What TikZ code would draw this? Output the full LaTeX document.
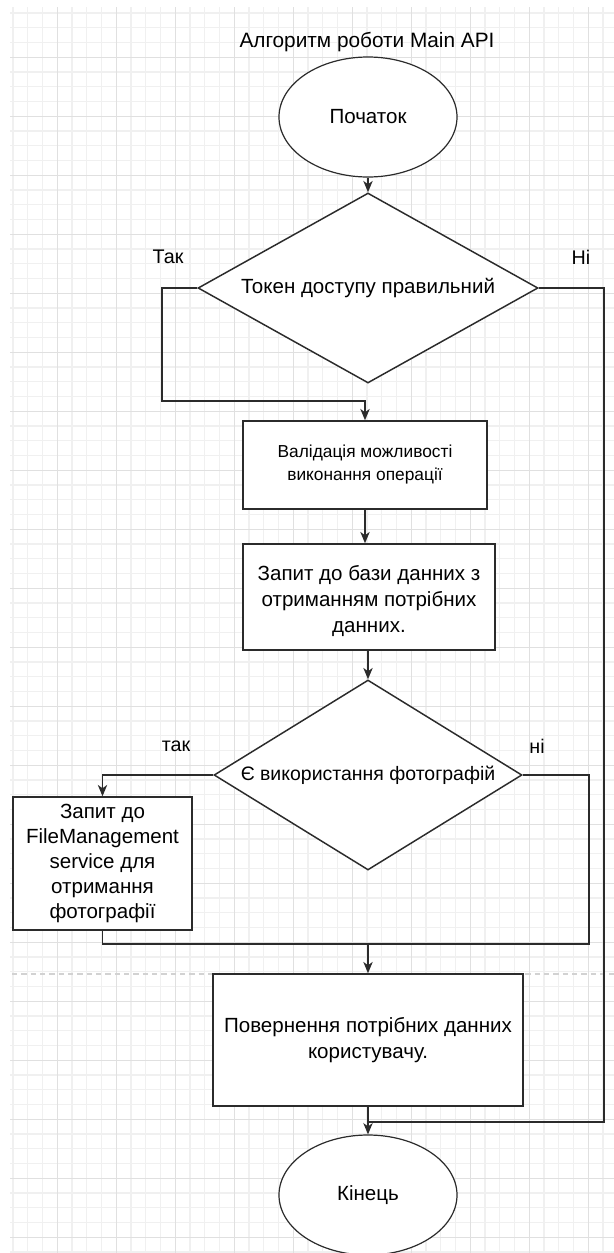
\documentclass[tikz,border=0pt]{standalone}
\usepackage{fontspec}
\setmainfont{Liberation Sans}
\usetikzlibrary{shapes.geometric,arrows.meta,calc}

\definecolor{edge}{HTML}{2B2B2B}
\definecolor{gridminor}{HTML}{F0F0F0}
\definecolor{gridmajor}{HTML}{E0E0E0}
\definecolor{sepline}{HTML}{D2D2D2}

\tikzset{
  flowline/.style={draw=edge, line width=1.1pt},
  arr/.style={flowline, -{Stealth[length=8.5pt,width=7pt,inset=2.5pt]}},
  term/.style={ellipse, draw=edge, line width=0.9pt, fill=white,
    minimum width=133.5pt, minimum height=90pt, inner sep=0pt,
    font=\fontsize{15.4}{18}\selectfont},
  decision/.style={diamond, draw=edge, line width=1.1pt, fill=white,
    inner sep=0pt, font=\fontsize{15.4}{18}\selectfont},
  procbox/.style={rectangle, draw=edge, line width=1.1pt, fill=white,
    inner sep=0pt, align=center},
  lbl/.style={inner sep=0pt, font=\fontsize{14.8}{17}\selectfont},
}

\begin{document}
\begin{tikzpicture}[x=0.75pt,y=-0.75pt]
  % page and background grid
  \fill[white] (0,0) rectangle (614,1253);
  \useasboundingbox (0,0) rectangle (614,1253);
  \begin{scope}
    \clip (10,7) rectangle (614,1253);
    \foreach \i in {0,...,41}
      \draw[gridminor, line width=0.9pt] ({13.05+\i*14.75},7) -- ({13.05+\i*14.75},1253);
    \foreach \i in {0,...,84}
      \draw[gridminor, line width=0.9pt] (10,{13.05+\i*14.75}) -- (614,{13.05+\i*14.75});
    \foreach \i in {0,...,9}
      \draw[gridmajor, line width=0.9pt] ({57.3+\i*59},7) -- ({57.3+\i*59},1253);
    \foreach \i in {0,...,20}
      \draw[gridmajor, line width=0.9pt] (10,{57.3+\i*59}) -- (614,{57.3+\i*59});
  \end{scope}
  \coordinate (sepL) at (12,974);
  \coordinate (sepR) at (614,974);
  \draw[sepline, line width=1.1pt, dash pattern=on 4pt off 3pt] (sepL) -- (sepR);

  % title
  \node[inner sep=0pt, font=\fontsize{15.6}{18}\selectfont] (title) at (367,42)
    {Алгоритм роботи Main API};

  % flow elements
  \node[term] (start) at (368,117) {\raisebox{-2pt}{Початок}};
  \node[decision, minimum width=255pt, minimum height=142.5pt] (d1) at (368,288)
    {\makebox[0pt][c]{Токен доступу правильний}};
  \node[procbox, minimum width=183pt, minimum height=66pt,
        font=\fontsize{13}{17.25}\selectfont] (b1) at (365,465)
    {Валідація можливості\\виконання операції};
  \node[procbox, minimum width=189pt, minimum height=79.5pt] (b2) at (369,597) {};
  \node[inner sep=0pt, align=center, font=\fontsize{15.4}{19.5}\selectfont]
    (b2text) at (369,601)
    {Запит до бази данних з\\отриманням потрібних\\данних.};
  \node[decision, minimum width=231pt, minimum height=142.5pt,
        font=\fontsize{14.6}{17}\selectfont] (d2) at (368,775)
    {\makebox[0pt][c]{Є використання фотографій}};
  \node[procbox, minimum width=134.25pt, minimum height=99.75pt,
        font=\fontsize{15.4}{18.75}\selectfont] (b3) at (102.5,863.5)
    {Запит до\\FileManagement\\service для\\отримання\\фотографії};
  \node[procbox, minimum width=232.5pt, minimum height=99pt,
        font=\fontsize{15.4}{20}\selectfont] (b4) at (368,1040)
    {Повернення потрібних данних\\користувачу.};
  \node[term] (end) at (368,1195) {\raisebox{-1.5pt}{Кінець}};

  % branch labels
  \node[lbl] (yes1) at (168,257) {Так};
  \node[lbl] (no1) at (581,257) {Ні};
  \node[lbl] (yes2) at (176,746) {так};
  \node[lbl] (no2) at (537,746) {ні};

  % routing points
  \coordinate (yesA) at (162,401);
  \coordinate (noA) at (604,1122);
  \coordinate (mergeR) at (589,944);

  % connectors
  \draw[arr] (start.south) -- (d1.north);
  \draw[arr] (d1.west) -| (yesA) -| (b1.north);
  \draw[flowline] (d1.east) -| (noA) -- (noA -| end.north);
  \draw[arr] (b1.south) -- (b1.south |- b2.north);
  \draw[arr] (d2.north |- b2.south) -- (d2.north);
  \draw[arr] (d2.west) -| (b3.north);
  \draw[flowline] (b3.south) |- (mergeR) |- (d2.east);
  \draw[arr] (b4.north |- mergeR) -- (b4.north);
  \draw[arr] (b4.south) -- (end.north);
\end{tikzpicture}
\end{document}
